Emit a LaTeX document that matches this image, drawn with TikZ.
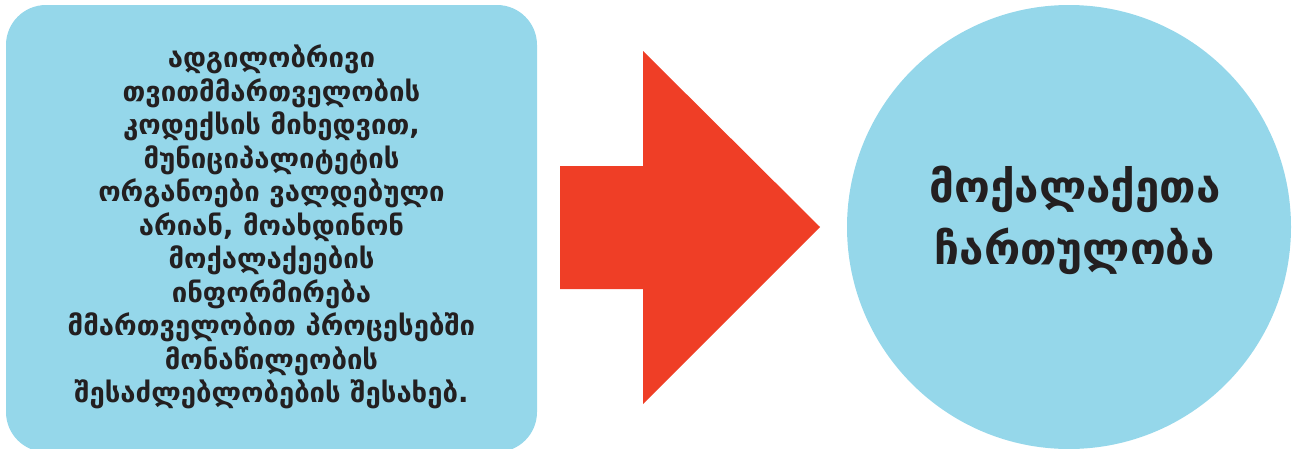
\documentclass[tikz,border=0pt]{standalone}
\usepackage{fontspec}
\setmainfont{DejaVu Sans}
\newfontfamily\geo[Script=Georgian]{DejaVu Sans}
\definecolor{lblue}{HTML}{95D7EA}
\definecolor{ared}{HTML}{EF3E26}
\definecolor{tdark}{HTML}{231F20}
\begin{document}
\begin{tikzpicture}[x=1pt,y=-1pt,
  boxtxt/.style={text=tdark,font=\geo\bfseries\fontsize{27.5}{33.5}\selectfont,align=center}]
\useasboundingbox (0,0) rectangle (1293,448);
\begin{scope}
\clip (0,0) rectangle (1293,448);
\fill[lblue,rounded corners=40pt] (6,5) rectangle (537,452);
\fill[lblue] (1069,227) circle (222);
\end{scope}
\node[boxtxt] (left) at (271.5,227) {ადგილობრივი\\თვითმმართველობის\\კოდექსის მიხედვით,\\მუნიციპალიტეტის\\ორგანოები ვალდებული\\არიან, მოახდინონ\\მოქალაქეების\\ინფორმირება\\მმართველობით პროცესებში\\მონაწილეობის\\შესაძლებლობების შესახებ.};
\fill[ared] (560,166) -- (643,166) -- (643,51) -- (820,227) -- (643,404) -- (643,289) -- (560,289) -- cycle;
\node[text=tdark,font=\geo\bfseries\fontsize{44}{62}\selectfont,align=center] (right) at (1075,220) {მოქალაქეთა\\ჩართულობა};
\end{tikzpicture}
\end{document}
